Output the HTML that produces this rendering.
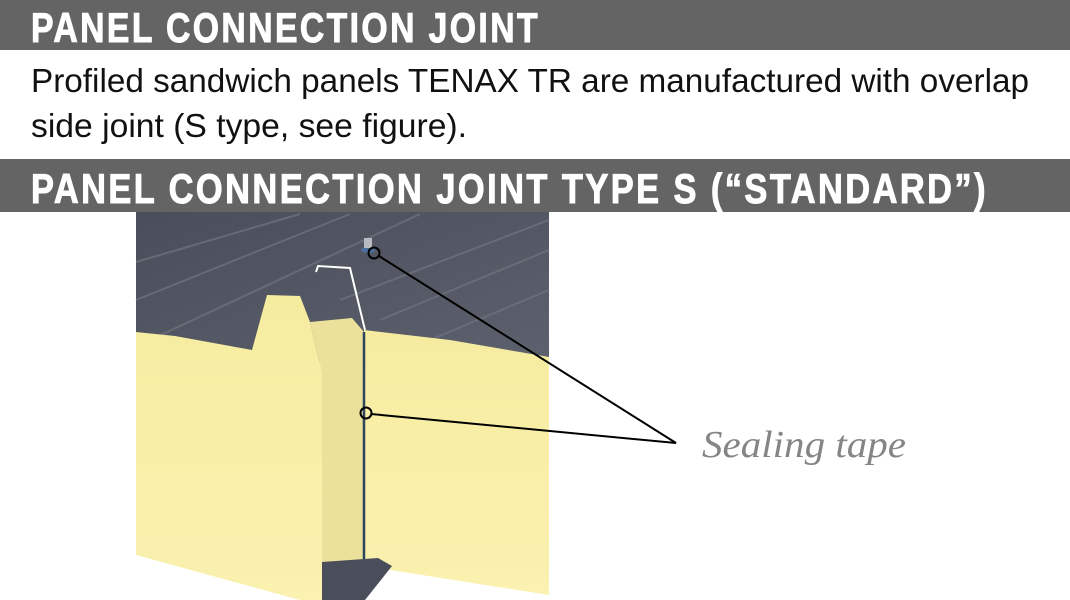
<!DOCTYPE html>
<html><head><meta charset="utf-8"><style>
html,body{margin:0;padding:0;background:#fff;width:1070px;height:600px;overflow:hidden}
svg{display:block}
</style></head><body>
<svg width="1070" height="600" viewBox="0 0 1070 600" xmlns="http://www.w3.org/2000/svg">
<defs>
<linearGradient id="roof" x1="0" y1="0" x2="1" y2="1">
<stop offset="0" stop-color="#4a4e5a"/><stop offset="1" stop-color="#5c616d"/></linearGradient>
<linearGradient id="foam" x1="0" y1="0" x2="0" y2="1">
<stop offset="0" stop-color="#f6eca0"/><stop offset="1" stop-color="#fbf1b0"/></linearGradient>
</defs>
<rect x="0" y="0" width="1070" height="50" fill="#646464"/>
<text x="31" y="42" textLength="509" lengthAdjust="spacingAndGlyphs" letter-spacing="3" stroke="#fff" stroke-width="1" font-family="Liberation Sans, sans-serif" font-weight="bold" font-size="42" fill="#fff">PANEL CONNECTION JOINT</text>
<text x="31" y="92" textLength="998" lengthAdjust="spacingAndGlyphs" font-family="Liberation Sans, sans-serif" font-size="33" fill="#111">Profiled sandwich panels TENAX TR are manufactured with overlap</text>
<text x="31" y="137" textLength="436" lengthAdjust="spacingAndGlyphs" font-family="Liberation Sans, sans-serif" font-size="33" fill="#111">side joint (S type, see figure).</text>
<rect x="0" y="159" width="1070" height="53" fill="#646464"/>
<text x="31" y="203" textLength="957" lengthAdjust="spacingAndGlyphs" letter-spacing="3" stroke="#fff" stroke-width="1" font-family="Liberation Sans, sans-serif" font-weight="bold" font-size="42" fill="#fff">PANEL CONNECTION JOINT TYPE S (“STANDARD”)</text>

<rect x="136" y="212" width="413" height="150" fill="url(#roof)"/>
<g stroke="#6c717c" stroke-width="2" fill="none" opacity="0.8">
<path d="M136 262 L300 214"/><path d="M136 300 L350 214"/><path d="M150 340 L420 214"/>
<path d="M340 300 L549 220"/><path d="M380 320 L549 250"/><path d="M430 340 L549 290"/>
</g>
<path d="M136 332 L175 336 L252 350 L267 295 L300 296 L310 322 L322 373 L322 600 L300 600 L136 555 Z" fill="url(#foam)"/>
<path d="M310 322 L352 318 L364 332 L364 600 L322 600 L322 373 Z" fill="#ece19a"/>
<path d="M364 330 L450 340 L549 357 L549 595 L390 570 L364 562 Z" fill="url(#foam)"/>
<line x1="364" y1="332" x2="364" y2="560" stroke="#2e4560" stroke-width="2.5"/>
<path d="M316 272 L318 266 L350 268 L365 330" stroke="#fff" stroke-width="2" fill="none"/>
<path d="M322 562 L378 558 L392 566 L365 600 L322 600 Z" fill="#4a4e5a"/>
<ellipse cx="368" cy="250" rx="7" ry="3" fill="#4b6f9a"/>
<rect x="364" y="238" width="8" height="10" fill="#b8bcc2"/>
<g stroke="#000" stroke-width="2" fill="none">
<circle cx="374" cy="253" r="5.5"/>
<circle cx="366" cy="413" r="5.5"/>
<path d="M379 256 L676 443 L371 414"/>
</g>
<text x="702" y="457" textLength="204" lengthAdjust="spacingAndGlyphs" font-family="Liberation Serif, serif" font-style="italic" font-size="38" fill="#858585">Sealing tape</text>
</svg>
</body></html>
